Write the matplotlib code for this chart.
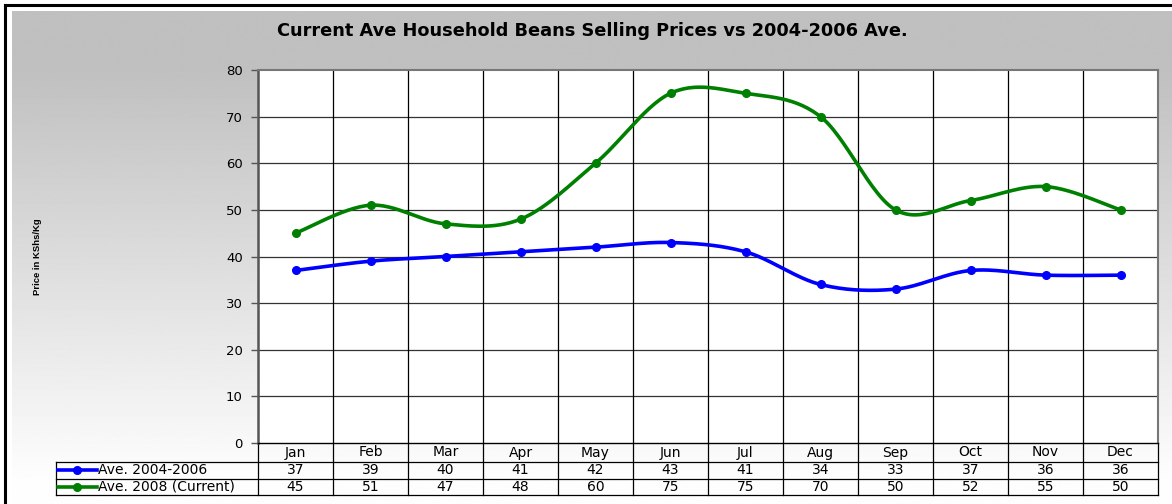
import numpy as np
import matplotlib.pyplot as plt
from matplotlib.transforms import blended_transform_factory
from matplotlib.lines import Line2D

months = ['Jan', 'Feb', 'Mar', 'Apr', 'May', 'Jun',
          'Jul', 'Aug', 'Sep', 'Oct', 'Nov', 'Dec']
ave_0406 = [37, 39, 40, 41, 42, 43, 41, 34, 33, 37, 36, 36]
ave_2008 = [45, 51, 47, 48, 60, 75, 75, 70, 50, 52, 55, 50]
series_names = ['Ave. 2004-2006', 'Ave. 2008 (Current)']
series_colors = ['#0000ff', '#008000']
yticks = [0, 10, 20, 30, 40, 50, 60, 70, 80]

title = 'Current Ave Household Beans Selling Prices vs 2004-2006 Ave.'
ylabel = 'Price in KShs/Kg'

plt.rcParams['font.family'] = ['DejaVu Sans']


def smooth(y, steps=30):
    # excel style smoothed line (bezier through the points)
    y = np.asarray(y, float)
    x = np.arange(len(y), dtype=float)
    px = np.concatenate([[x[0]], x, [x[-1]]])
    py = np.concatenate([[y[0]], y, [y[-1]]])
    xs, ys = [], []
    t = np.linspace(0, 1, steps)
    for i in range(len(y) - 1):
        p0 = np.array([px[i + 1], py[i + 1]])
        p3 = np.array([px[i + 2], py[i + 2]])
        p1 = p0 + (np.array([px[i + 2], py[i + 2]]) - np.array([px[i], py[i]])) / 6
        p2 = p3 - (np.array([px[i + 3], py[i + 3]]) - np.array([px[i + 1], py[i + 1]])) / 6
        b = ((1 - t) ** 3)[:, None] * p0 + (3 * (1 - t) ** 2 * t)[:, None] * p1 \
            + (3 * (1 - t) * t ** 2)[:, None] * p2 + (t ** 3)[:, None] * p3
        xs.extend(b[:, 0])
        ys.extend(b[:, 1])
    return np.array(xs), np.array(ys)


W, H = 1172, 504
fig = plt.figure(figsize=(W / 100, H / 100), dpi=100)
fig.patch.set_facecolor('white')

# gradient background panel
bg = fig.add_axes([0, 0, 1, 1], zorder=-10)
bg.set_xlim(0, W)
bg.set_ylim(H, 0)
bg.axis('off')
rows = np.arange(H)
shade = np.clip((rows - 60) / (480 - 60), 0, 1)
val = 0.753 + (0.995 - 0.753) * shade
grad = np.repeat(val[:, None], 2, axis=1)
bg.imshow(grad, cmap='gray', vmin=0, vmax=1, aspect='auto',
          extent=[12, W, H, 11], interpolation='bilinear')
bg.plot([5, 5], [H, 5], color='black', lw=2.2, solid_capstyle='projecting')
bg.plot([5, W], [5, 5], color='black', lw=2.2, solid_capstyle='projecting')
bg.text(592, 31, title, ha='center', va='center', fontsize=12.8,
        fontweight='bold')
bg.text(37, 257, ylabel, ha='center', va='center', rotation=90,
        fontsize=6.8, fontweight='bold', family='Liberation Sans')

left, right, top, bottom = 258, 1158, 70, 443
ax = fig.add_axes([left / W, 1 - bottom / H, (right - left) / W, (bottom - top) / H])
ax.set_facecolor('white')
ax.set_xlim(-0.5, 11.5)
ax.set_ylim(0, 80)
ax.set_yticks(yticks)
ax.set_yticklabels([str(v) for v in yticks], fontsize=9.5)
ax.tick_params(axis='y', length=5, width=1, color='#555555', pad=6)
ax.set_xticks([])
for yv in yticks[1:-1]:
    ax.axhline(yv, color='#333333', lw=0.9, zorder=1)
for k in range(1, 12):
    ax.axvline(k - 0.5, color='black', lw=0.9, zorder=1)
for s in ['top', 'right']:
    ax.spines[s].set_color('#777777')
    ax.spines[s].set_linewidth(1.5)
ax.spines['left'].set_color('#555555')
ax.spines['left'].set_linewidth(1.8)
ax.spines['bottom'].set_color('black')
ax.spines['bottom'].set_linewidth(1.0)

x = np.arange(len(months))
for vals, c in zip([ave_0406, ave_2008], series_colors):
    sx, sy = smooth(vals)
    ax.plot(sx, sy, color=c, lw=2.6, zorder=3, solid_capstyle='round')
    ax.plot(x, vals, 'o', color=c, ms=5.5, zorder=4)

# data table below the plot
ph = bottom - top
hdr = -19 / ph
r1 = -35.5 / ph
r2 = -52 / ph
tleft = (56 - left) / (right - left)
tr = blended_transform_factory(ax.transData, ax.transAxes)
ta = ax.transAxes
lc = 'black'
fs = 10
for k in range(13):
    ax.plot([k - 0.5, k - 0.5], [0, r2], transform=tr, color=lc, lw=0.9,
            clip_on=False)
ax.plot([tleft, tleft], [hdr, r2], transform=ta, color=lc, lw=0.9, clip_on=False)
for yy in [hdr, r1, r2]:
    ax.plot([tleft, 1], [yy, yy], transform=ta, color=lc, lw=0.9, clip_on=False)
for k, m in enumerate(months):
    ax.text(k, hdr / 2, m, transform=tr, ha='center', va='center', fontsize=fs)
    ax.text(k, (hdr + r1) / 2, str(ave_0406[k]), transform=tr, ha='center',
            va='center', fontsize=fs)
    ax.text(k, (r1 + r2) / 2, str(ave_2008[k]), transform=tr, ha='center',
            va='center', fontsize=fs)
for name, c, (ya, yb) in zip(series_names, series_colors, [(hdr, r1), (r1, r2)]):
    ym = (ya + yb) / 2
    x0 = (58 - left) / (right - left)
    x1 = (97 - left) / (right - left)
    xm = (77 - left) / (right - left)
    ax.add_line(Line2D([x0, x1], [ym, ym], transform=ta, color=c, lw=2.6,
                       clip_on=False))
    ax.add_line(Line2D([xm], [ym], transform=ta, color=c, marker='o', ms=5.5,
                       clip_on=False))
    ax.text((98 - left) / (right - left), ym, name, transform=ta, ha='left',
            va='center', fontsize=fs)

fig.savefig('out.png', dpi=100)
